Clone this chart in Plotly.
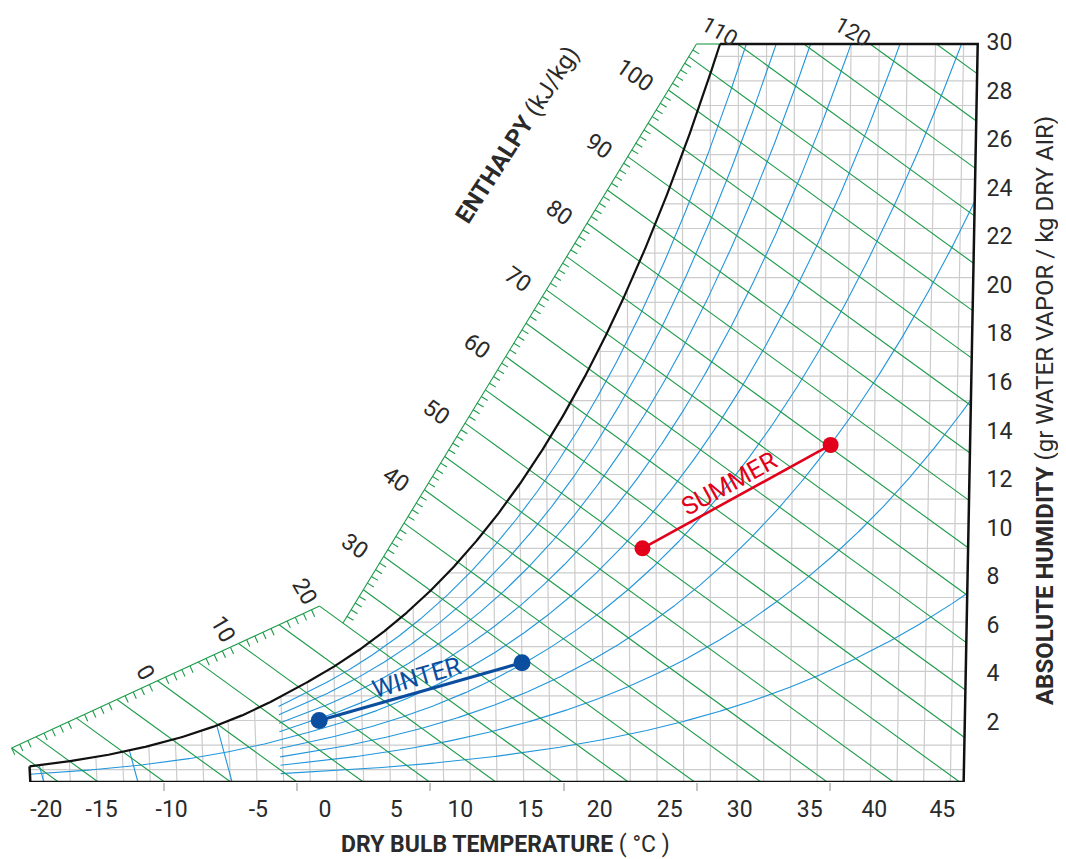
import numpy as np
import plotly.graph_objects as go

# ---------------- data ----------------
rh_levels = [10, 20, 30, 40, 50, 60, 70, 80, 90]          # relative-humidity curves, %
rh_long = [50]                                            # curve continued down to -20 °C
enthalpy_levels = [-15, -10, -5, 0, 5, 10, 15, 20, 25, 30, 35, 40, 45, 50, 55, 60,
                   65, 70, 75, 80, 85, 90, 95, 100, 105, 110, 115, 120, 125]   # kJ/kg
enthalpy_label_values = [0, 10, 20, 30, 40, 50, 60, 70, 80, 90, 100, 110, 120]
volume_levels = [0.72, 0.74, 0.76]                        # m3/kg (left part only)
grid_temperatures = [-19, -17, -15, -13, -11, -9, -7, -5, -3, -1, 1, 3, 5, 7, 9, 11, 13,
                     15, 17, 19, 21, 23, 25, 27, 29, 31, 33, 35, 37, 39, 41, 43, 45, 47, 49]
grid_humidities = [0.5, 1.5, 2.5, 3.5, 4.5, 5.5, 6.5, 7.5, 8.5, 9.5, 10.5, 11.5, 12.5,
                   13.5, 14.5, 15.5, 16.5, 17.5, 18.5, 19.5, 20.5, 21.5, 22.5, 23.5,
                   24.5, 25.5, 26.5, 27.5, 28.5, 29.5]
x_tick_text = ["-20", "-15", "-10", "-5", "0", "5", "10", "15", "20", "25", "30", "35", "40", "45"]
x_tick_at = [-18.8, -14.65, -9.4, -2.9, 2.1, 7.45, 12.25, 17.5, 22.7, 27.95, 33.2, 38.45, 43.3, 48.4]
x_major_ticks = [-10, 0, 10, 20, 30, 40]
y_tick_values = [2, 4, 6, 8, 10, 12, 14, 16, 18, 20, 22, 24, 26, 28, 30]
summer_temp = [26.0, 39.8]
summer_hum = [9.5, 13.7]
winter_temp = [1.8, 17.0]
winter_hum = [2.5, 4.85]

# chart limits
T_MIN, T_MAX, W_MAX = -20.0, 50.0, 30.0
RH_T_START = -1.2
P_ATM = 101.325
SCALE_LOWER = ((-18.0, 1.38), (20.0, 7.15))   # (enthalpy, humidity) ends of scale
SCALE_UPPER = ((20.0, 6.46), (106.9, 30.0))

# ---------------- styling / geometry ----------------
OFF = 8.0                      # page body margin
FIG_W, FIG_H = 1058, 851
C_SKEW, T_PIVOT = 0.00185, 31.0
PX0, PXS, PY0, PYS = 297.0 - OFF, 13.333, 782.0 - OFF, 24.6
PLOT_RIGHT = 980.0 - OFF
FONT = "Roboto"
TXT = "#2a2a2a"
BLUE = "#2196db"
GREEN = "#1b9a48"
GRID = "#cccccc"
RED = "#e2001a"
WBLUE = "#0b4d9e"


def p_sat(T):
    T = np.asarray(T, dtype=float)
    ice = 0.61115 * np.exp(22.46 * T / (272.62 + T))
    water = 0.61121 * np.exp(17.62 * T / (243.12 + T))
    return np.where(T < 0, ice, water)


def w_of_p(p):
    return 621.945 * p / (P_ATM - p)


def p_of_w(W):
    return W * P_ATM / (621.945 + W)


def t_dew(W):
    p = p_of_w(np.asarray(W, dtype=float))
    L = np.log(p / 0.61121)
    tw = 243.12 * L / (17.62 - L)
    Li = np.log(p / 0.61115)
    ti = 272.62 * Li / (22.46 - Li)
    return np.where(tw >= 0, tw, ti)


def X_of(T, W):
    return T + C_SKEW * W * (T - T_PIVOT)


def T_of(X, W):
    return (X + C_SKEW * W * T_PIVOT) / (1 + C_SKEW * W)


def h_of(T, W):
    return 1.006 * T + W * (2.501 + 0.00186 * T)


def T_from_h(h, W):
    return (h - 2.501 * W) / (1.006 + 0.00186 * W)


def to_px(X, W):
    return PX0 + PXS * np.asarray(X), PY0 - PYS * np.asarray(W)


def from_px(px, py):
    return (np.asarray(px) - PX0) / PXS, (PY0 - np.asarray(py)) / PYS


def ref_px(px, py):
    """reference-picture pixel -> data coordinates"""
    return from_px(px - OFF, py - OFF)


def paper(px, py):
    return (px - OFF) / PLOT_RIGHT, (PY0 - (py - OFF)) / PY0


def hw_to_px(h, W):
    T = T_from_h(h, W)
    return np.array(to_px(X_of(T, W), W), dtype=float)


class Seg:
    def __init__(self, ends):
        self.A = hw_to_px(*ends[0])
        self.B = hw_to_px(*ends[1])
        s = np.linspace(0, 1, 4001)
        self.px = self.A[0] + s * (self.B[0] - self.A[0])
        self.py = self.A[1] + s * (self.B[1] - self.A[1])
        X, W = from_px(self.px, self.py)
        self.h = h_of(T_of(X, W), W)
        d = self.B - self.A
        d = d / np.hypot(*d)
        self.d = d
        self.n = np.array([-d[1], d[0]])

    def at(self, hv):
        return np.array([np.interp(hv, self.h, self.px), np.interp(hv, self.h, self.py)])


lower = Seg(SCALE_LOWER)
upper = Seg(SCALE_UPPER)

fig = go.Figure()


def add_lines(xs, ys, color, width, name):
    fig.add_trace(go.Scatter(x=xs, y=ys, mode="lines", line=dict(color=color, width=width),
                             hoverinfo="skip", showlegend=False, name=name, connectgaps=False))


# ---- grid (clipped under saturation) ----
gx, gy = [], []
for t in grid_temperatures:
    wt = min(float(w_of_p(p_sat(t))), W_MAX)
    gx += [X_of(t, 0.0), X_of(t, wt), None]
    gy += [0.0, wt, None]
for w in grid_humidities:
    t1 = max(float(t_dew(w)), T_MIN)
    if t1 < T_MAX:
        gx += [X_of(t1, w), X_of(T_MAX, w), None]
        gy += [w, w, None]
add_lines(gx, gy, GRID, 1.2, "grid")

# ---- relative humidity curves ----
bx, by = [], []
for rh in rh_levels:
    t0 = T_MIN if rh in rh_long else RH_T_START
    T = np.linspace(t0, T_MAX, 600)
    W = w_of_p(rh / 100 * p_sat(T))
    if W[-1] > W_MAX:
        t_end = float(np.interp(W_MAX, W, T))
        T = np.linspace(t0, t_end, 600)
        W = np.minimum(w_of_p(rh / 100 * p_sat(T)), W_MAX)
    bx += list(X_of(T, W)) + [None]
    by += list(W) + [None]
# ---- specific volume lines ----
for v in volume_levels:
    W = np.linspace(0, 3, 600)
    T = v * P_ATM / (0.287042 * (1 + 0.001607858 * W)) - 273.15
    m = W <= w_of_p(p_sat(T))
    bx += list(X_of(T[m], W[m])) + [None]
    by += list(W[m]) + [None]
add_lines(bx, by, BLUE, 1.1, "rh")

# ---- enthalpy lines, scale, ticks ----
ex, ey = [], []


def h_line(hv, w_start):
    w_end = 0.0 if T_from_h(hv, 0.0) <= T_MAX else (hv - 1.006 * T_MAX) / (2.501 + 0.00186 * T_MAX)
    if w_end >= w_start:
        return
    W = np.linspace(w_start, w_end, 30)
    T = T_from_h(hv, W)
    ex.extend(list(X_of(T, W)) + [None])
    ey.extend(list(W) + [None])


h_low0 = SCALE_LOWER[0][0]
h_up1 = SCALE_UPPER[1][0]
h_line(h_low0, from_px(*lower.A)[1])
for hv in enthalpy_levels:
    if h_low0 <= hv <= SCALE_LOWER[1][0]:
        w0 = float(from_px(*lower.at(hv))[1])
    elif hv <= h_up1:
        w0 = float(from_px(*upper.at(hv))[1])
    else:
        w0 = W_MAX
    h_line(hv, w0)

for seg, h0, h1 in [(lower, SCALE_LOWER[0][0], SCALE_LOWER[1][0]), (upper, SCALE_UPPER[0][0], SCALE_UPPER[1][0])]:
    a = from_px(*seg.A)
    b = from_px(*seg.B)
    ex += [a[0], b[0], None]
    ey += [a[1], b[1], None]
    for hv in range(int(np.ceil(h0)), int(np.floor(h1)) + 1):
        if hv % 5 == 0:
            continue
        P = seg.at(hv)
        Q = P + seg.n * 7.5
        p0 = from_px(*P)
        q0 = from_px(*Q)
        ex += [p0[0], q0[0], None]
        ey += [p0[1], q0[1], None]
top_scale = from_px(*upper.B)
ex += [top_scale[0], X_of(float(t_dew(W_MAX)), W_MAX), None]
ey += [W_MAX, W_MAX, None]
add_lines(ex, ey, GREEN, 1.1, "enthalpy")

# ---- saturation curve and frame ----
Ts = np.linspace(T_MIN, float(t_dew(W_MAX)), 600)
Ws = w_of_p(p_sat(Ts))
add_lines(list(X_of(Ts, Ws)), list(Ws), "#111111", 2.2, "saturation")
ws_min = float(w_of_p(p_sat(T_MIN)))
fx = [X_of(T_MIN, ws_min), X_of(T_MIN, 0), X_of(T_MAX, 0), X_of(T_MAX, W_MAX),
      X_of(float(t_dew(W_MAX)), W_MAX)]
fy = [ws_min, 0, 0, W_MAX, W_MAX]
add_lines(fx, fy, "#111111", 2.5, "frame")

# ---- summer / winter processes ----
fig.add_trace(go.Scatter(x=list(X_of(np.array(summer_temp), np.array(summer_hum))), y=summer_hum,
                         mode="lines+markers", line=dict(color=RED, width=2.6),
                         marker=dict(color=RED, size=16), hoverinfo="skip", showlegend=False))
fig.add_trace(go.Scatter(x=list(X_of(np.array(winter_temp), np.array(winter_hum))), y=winter_hum,
                         mode="lines+markers", line=dict(color=WBLUE, width=3),
                         marker=dict(color=WBLUE, size=17), hoverinfo="skip", showlegend=False))

annotations = []


def process_label(temps, hums, text, color):
    X = X_of(np.array(temps), np.array(hums))
    px, py = to_px(X, np.array(hums))
    d = np.array([px[1] - px[0], py[1] - py[0]])
    d = d / np.hypot(*d)
    ang = np.degrees(np.arctan2(d[1], d[0]))
    c = np.array([px.mean(), py.mean()]) + np.array([d[1], -d[0]]) * 15
    cx, cy = from_px(*c)
    annotations.append(dict(x=float(cx), y=float(cy), xref="x", yref="y", text=text, showarrow=False,
                            textangle=float(ang), font=dict(family=FONT, size=25, color=color),
                            xanchor="center", yanchor="middle"))


process_label(summer_temp, summer_hum, "SUMMER", RED)
process_label(winter_temp, winter_hum, "WINTER", WBLUE)

# ---- enthalpy scale labels ----
FS = 23
for hv in enthalpy_label_values:
    fs = FS
    if hv <= SCALE_LOWER[1][0]:
        P, ang, gap = lower.at(hv), 60.0, np.array([-9.0, -3.0])
    elif hv <= h_up1:
        P, ang, gap = upper.at(hv), 35.0, np.array([-18.0, -3.0])
    else:
        P, ang, gap = hw_to_px(hv, W_MAX), 30.0, np.array([-2.0, -3.0])
        fs = 22
    wtxt = len(str(hv)) * 0.56 * fs
    u = np.array([np.cos(np.radians(ang)), np.sin(np.radians(ang))])
    c = P + gap - u * wtxt / 2
    cx, cy = from_px(*c)
    annotations.append(dict(x=float(cx), y=float(cy), xref="x", yref="y", text=str(hv), showarrow=False,
                            textangle=ang, font=dict(family=FONT, size=fs, color=TXT),
                            xanchor="center", yanchor="middle"))

# ---- titles ----
ex_c, ey_c = ref_px(517, 135)
annotations.append(dict(x=float(ex_c), y=float(ey_c), xref="x", yref="y",
                        text="<b>ENTHALPY</b> (kJ/kg)", showarrow=False, textangle=-57,
                        font=dict(family=FONT, size=24, color=TXT), xanchor="center", yanchor="middle"))
tx, ty = paper(505.5, 845)
annotations.append(dict(x=tx, y=ty, xref="paper", yref="paper",
                        text="<b>DRY BULB TEMPERATURE</b> ( °C )", showarrow=False,
                        font=dict(family=FONT, size=23, color=TXT), xanchor="center", yanchor="middle"))
yx, yy = paper(1045, 411)
annotations.append(dict(x=yx, y=yy, xref="paper", yref="paper",
                        text="<b>ABSOLUTE HUMIDITY</b> (gr WATER VAPOR / kg DRY AIR)", showarrow=False,
                        textangle=-90, font=dict(family=FONT, size=24, color=TXT),
                        xanchor="center", yanchor="middle"))

# invisible traces to activate secondary axes
fig.add_trace(go.Scatter(x=[0], y=[0], xaxis="x2", mode="markers", marker=dict(opacity=0),
                         hoverinfo="skip", showlegend=False))
fig.add_trace(go.Scatter(x=[0], y=[0], yaxis="y2", mode="markers", marker=dict(opacity=0),
                         hoverinfo="skip", showlegend=False))

x_range = [(0 - PX0) / PXS, (PLOT_RIGHT - PX0) / PXS]
y_range = [0, PY0 / PYS]
lab_scale = (722 - 42) / (30 - 2)
top_lab = 42 - OFF
y2_range = [30 - (PY0 - top_lab) / lab_scale, 30 + top_lab / lab_scale]

fig.update_layout(
    width=FIG_W, height=FIG_H,
    margin=dict(l=0, r=FIG_W - PLOT_RIGHT, t=0, b=FIG_H - PY0, autoexpand=False),
    paper_bgcolor="white", plot_bgcolor="white",
    showlegend=False,
    xaxis=dict(range=x_range, tickvals=x_tick_at, ticktext=x_tick_text, ticks="outside", ticklen=6,
               tickcolor="rgba(0,0,0,0)", showgrid=False, zeroline=False, showline=False,
               tickfont=dict(family=FONT, size=23, color=TXT)),
    xaxis2=dict(range=x_range, overlaying="x", anchor="y", side="bottom", tickvals=x_major_ticks,
                ticks="outside", ticklen=8, tickwidth=1.5, tickcolor="#c4c4c4", showticklabels=False,
                showgrid=False, zeroline=False, showline=False),
    yaxis=dict(range=y_range, showticklabels=False, showgrid=False, zeroline=False, showline=False,
               ticks=""),
    yaxis2=dict(range=y2_range, overlaying="y", side="right", anchor="x", tickvals=y_tick_values,
                ticks="outside", ticklen=1, tickcolor="rgba(0,0,0,0)", showgrid=False, zeroline=False,
                showline=False, tickfont=dict(family=FONT, size=23, color=TXT)),
    annotations=annotations,
)

fig.write_html("out.html")
